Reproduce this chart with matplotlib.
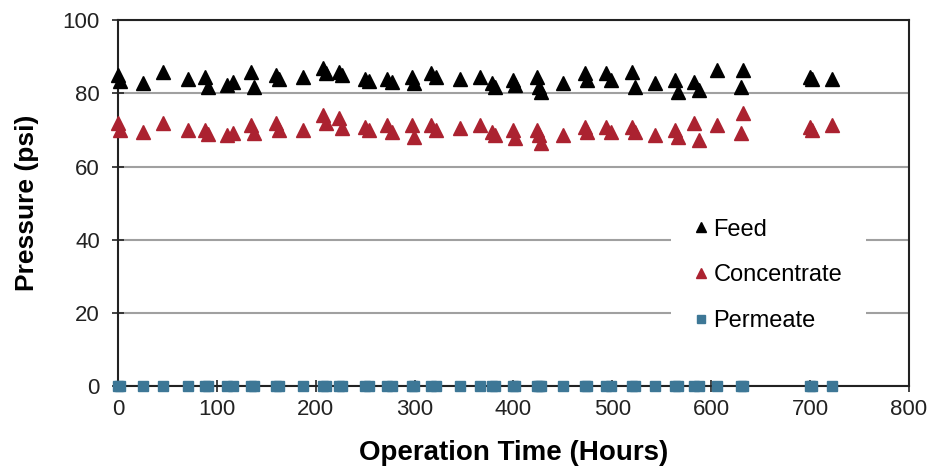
import matplotlib.pyplot as plt

plt.rcParams['font.family'] = ['Liberation Sans', 'DejaVu Sans']

# Operation time (hours) of each sample
hours = [0, 2, 25, 46, 71, 88, 91, 110, 116, 135, 138, 160, 163, 187,
         207, 210, 224, 227, 250, 254, 272, 277, 297, 299, 317, 322, 346,
         366, 378, 381, 400, 402, 424, 426, 428, 450, 472, 474, 494, 499,
         520, 523, 543, 563, 566, 583, 588, 606, 630, 632, 700, 702, 722]

feed = [85, 83.5, 82.8, 85.8, 84, 84.4, 81.7, 82.2, 83, 85.8, 81.7, 85, 84, 84.4,
        87, 85.5, 85.8, 85, 84, 83.5, 84, 83, 84.4, 82.8, 85.5, 84.4, 84,
        84.4, 82.8, 81.7, 83.6, 82.2, 84.4, 81.7, 80.3, 82.8, 85.5, 83.6, 85.5, 83.6,
        85.8, 81.7, 82.8, 83.6, 80.3, 83, 80.9, 86.3, 81.7, 86.3, 84.4, 84, 84]

concentrate = [72, 70, 69.4, 72, 70, 70, 69, 68.6, 69.1, 71.3, 69.1, 72, 70, 70,
               74, 72, 73.2, 70.5, 70.8, 70, 71.3, 69.4, 71.3, 68, 71.3, 70, 70.5,
               71.3, 69.4, 68.6, 70, 67.8, 70, 68.6, 66.4, 68.6, 70.8, 69.4, 70.8, 69.4,
               70.8, 69.4, 68.6, 70, 68, 72, 67.2, 71.3, 69.1, 74.6, 70.8, 70, 71.3]

permeate = [0] * len(hours)

fig = plt.figure(figsize=(9.32, 4.68), dpi=100)
ax = fig.add_axes([0.1266, 0.175, 0.8487, 0.782])

ax.plot(hours, feed, '^', color='black', markersize=10, label='Feed',
        zorder=3, clip_on=False)
ax.plot(hours, concentrate, '^', color='#ab2230', markersize=10, label='Concentrate',
        zorder=3, clip_on=False)
ax.plot(hours, permeate, 's', color='#3d7796', markersize=7.5, label='Permeate',
        zorder=4, clip_on=False)

ax.set_xlim(0, 800)
ax.set_ylim(0, 100)
ax.set_xticks(range(0, 801, 100))
ax.set_yticks(range(0, 101, 20))
ax.yaxis.grid(True, color='#a0a0a0', linewidth=1.5)
ax.set_axisbelow(True)

for sp in ax.spines.values():
    sp.set_linewidth(1.5)
    sp.set_color('#222222')

ax.tick_params(axis='both', direction='inout', length=8, width=1.2,
               labelsize=16, colors='#222222')
ax.tick_params(axis='x', pad=5)
ax.tick_params(axis='y', pad=9)

ax.set_xlabel('Operation Time (Hours)', fontsize=20, fontweight='bold', labelpad=15)
ax.set_ylabel('Pressure (psi)', fontsize=19, fontweight='bold', labelpad=17)

leg = ax.legend(loc='center', bbox_to_anchor=(0.822, 0.303), fontsize=17,
                frameon=True, facecolor='white', edgecolor='none', framealpha=1,
                handlelength=0.6, handletextpad=0.2, labelspacing=1.0,
                borderpad=1.0, markerscale=0.7, fancybox=False)
leg.set_zorder(5)

fig.savefig('out.png', dpi=100)
